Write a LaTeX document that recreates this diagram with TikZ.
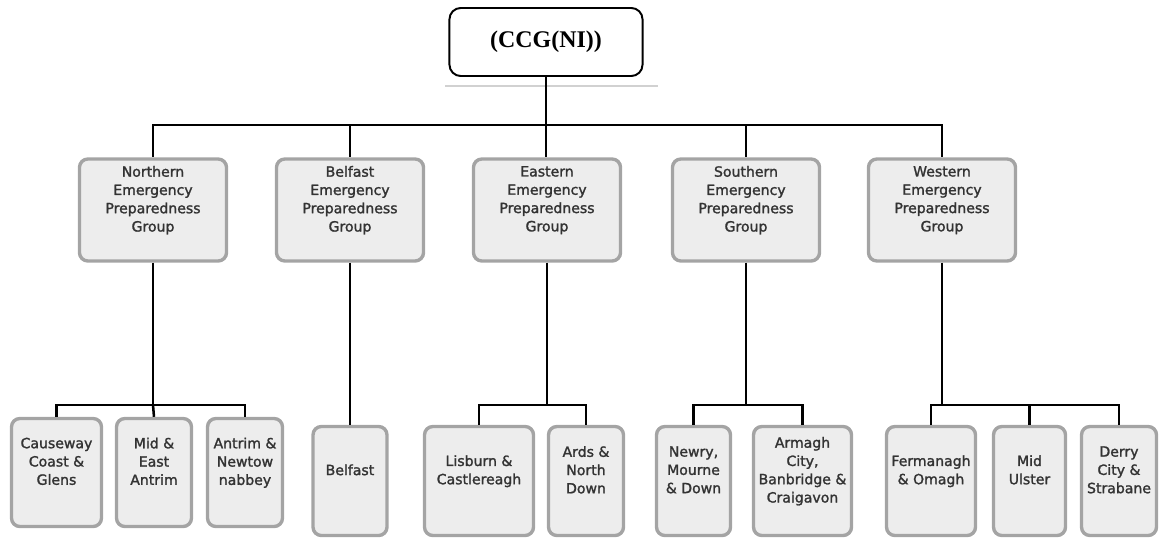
\documentclass[tikz,border=0pt]{standalone}
\usepackage{fontspec}
\newfontfamily\boxfont[FakeBold=1.6]{DejaVu Sans}
\newfontfamily\headfont{Liberation Serif}
\definecolor{boxfill}{HTML}{EDEDED}
\definecolor{boxline}{HTML}{A4A4A4}
\definecolor{boxtext}{HTML}{333333}
\begin{document}
\begin{tikzpicture}[x=0.025cm, y=-0.025cm,
    group/.style={draw=boxline, fill=boxfill, line width=2.4pt, rounded corners=6pt,
        align=center, text=boxtext, font=\boxfont\fontsize{10}{13}\selectfont,
        inner sep=2pt, text depth=16pt, minimum width=3.675cm, minimum height=2.55cm},
    council/.style 2 args={group, minimum width=#1, minimum height=#2},
    link/.style={line width=1.8pt}]
    \useasboundingbox (0,0) rectangle (1170,539) ;

    \node (ccg) [draw, fill=white, line width=1.4pt, rounded corners=8pt, minimum width=4.825cm,
        minimum height=1.7cm, font=\headfont\bfseries\fontsize{17}{19}\selectfont] at (546,42) {(CCG(NI))} ;
    \draw [black!18, line width=1.5pt] (445,86) -- (658,86) ;

    \node (north) [group] at (153,210) {Northern\\Emergency\\Preparedness\\Group} ;
    \node (belfast) [group] at (350,210) {Belfast\\Emergency\\Preparedness\\Group} ;
    \node (east) [group] at (547,210) {Eastern\\Emergency\\Preparedness\\Group} ;
    \node (south) [group] at (746,210) {Southern\\Emergency\\Preparedness\\Group} ;
    \node (west) [group] at (942,210) {Western\\Emergency\\Preparedness\\Group} ;

    \node (causeway) [council={2.25cm}{2.7cm}] at (56.5,472.5) {Causeway\\Coast \&\\Glens} ;
    \node (midantrim) [council={1.875cm}{2.7cm}] at (154,472.5) {Mid \&\\East\\Antrim} ;
    \node (newtown) [council={1.875cm}{2.7cm}] at (245,472.5) {Antrim \&\\Newtow\\nabbey} ;
    \node (belfastc) [council={1.85cm}{2.725cm}] at (350,481) {Belfast} ;
    \node (lisburn) [council={2.725cm}{2.725cm}] at (479,481) {Lisburn \&\\Castlereagh} ;
    \node (ards) [council={1.875cm}{2.725cm}] at (586,481) {Ards \&\\North\\Down} ;
    \node (newry) [council={1.85cm}{2.725cm}] at (693.5,481) {Newry,\\Mourne\\\& Down} ;
    \node (armagh) [council={2.45cm}{2.725cm}] at (802.5,481) {Armagh\\City,\\Banbridge \&\\Craigavon} ;
    \node (fermanagh) [council={2.225cm}{2.725cm}] at (931,481) {Fermanagh\\\& Omagh} ;
    \node (midulster) [council={1.8cm}{2.725cm}] at (1029.5,481) {Mid\\Ulster} ;
    \node (derry) [council={1.875cm}{2.725cm}] at (1119,481) {Derry\\City \&\\Strabane} ;

    \coordinate (hub) at (546,125) ;
    \draw [link] (ccg.south) -- (hub) ;
    \draw [link] (hub) -| (north.north) ;
    \draw [link] (hub) -| (belfast.north) ;
    \draw [link] (hub) -- (east.north -| hub) ;
    \draw [link] (hub) -| (south.north) ;
    \draw [link] (hub) -| (west.north) ;

    \coordinate (northbus) at (153,405) ;
    \draw [link] (north.south) -- (northbus) ;
    \draw [link] (northbus) -| (causeway.north) ;
    \draw [link] (northbus) -- (midantrim.north) ;
    \draw [link] (northbus) -| (newtown.north) ;

    \draw [link] (belfast.south) -- (belfastc.north) ;

    \coordinate (eastbus) at (547,405) ;
    \draw [link] (east.south) -- (eastbus) ;
    \draw [link] (eastbus) -| (lisburn.north) ;
    \draw [link] (eastbus) -| (ards.north) ;

    \coordinate (southbus) at (746,405) ;
    \draw [link] (south.south) -- (southbus) ;
    \draw [link] (southbus) -| (newry.north) ;
    \draw [link] (southbus) -| (armagh.north) ;

    \coordinate (westbus) at (942,405) ;
    \draw [link] (west.south) -- (westbus) ;
    \draw [link, line width=2.1pt] (westbus) -| (fermanagh.north) ;
    \draw [link, line width=2.1pt] (westbus) -| (midulster.north) ;
    \draw [link, line width=2.1pt] (westbus) -| (derry.north) ;
\end{tikzpicture}
\end{document}
